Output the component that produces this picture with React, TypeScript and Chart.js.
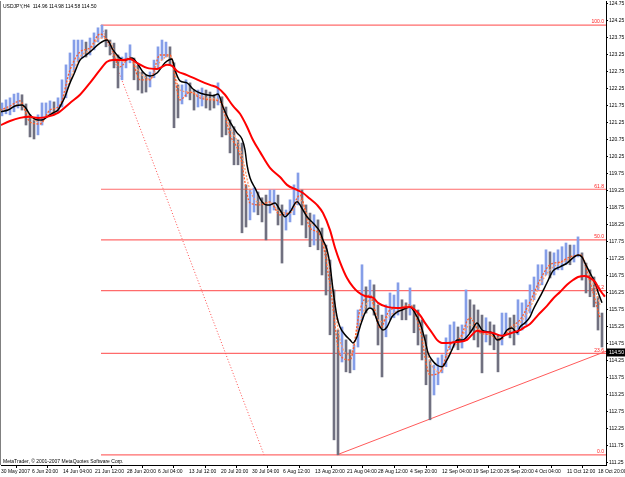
import React, { useEffect, useRef } from "react";
import { Chart, registerables } from "chart.js";

Chart.register(...registerables);

const FONT = "'Liberation Sans', Arial, sans-serif";

const HEADER = "USDJPY,H4  114.96 114.98 114.58 114.50";
const COPYRIGHT = "MetaTrader, \u00a9 2001-2007 MetaQuotes Software Corp.";
const LAST_PRICE = 114.5;

const X_MIN = 1;
const X_MAX = 606;
const Y_MIN = 111.19;
const Y_MAX = 124.838;

const Y_TICKS = [
  111.25, 111.75, 112.25, 112.75, 113.25, 113.75, 114.25, 114.75, 115.25, 115.75,
  116.25, 116.75, 117.25, 117.75, 118.25, 118.75, 119.25, 119.75, 120.25, 120.75,
  121.25, 121.75, 122.25, 122.75, 123.25, 123.75, 124.25, 124.75,
];

const X_TICK_BARS = [1, 32, 63, 95, 127, 158, 189, 221, 252, 283, 315, 347, 378, 410, 442, 473, 504, 535, 567, 598];
const X_TICK_LABELS = [
  "30 May 2007", "6 Jun 20:00", "14 Jun 04:00", "21 Jun 12:00", "28 Jun 20:00",
  "6 Jul 04:00", "13 Jul 12:00", "20 Jul 20:00", "30 Jul 04:00", "6 Aug 12:00",
  "13 Aug 20:00", "21 Aug 04:00", "28 Aug 12:00", "4 Sep 20:00", "12 Sep 04:00",
  "19 Sep 12:00", "26 Sep 20:00", "4 Oct 04:00", "11 Oct 12:00", "18 Oct 20:00",
];

// price bars, sampled every 4 bars starting at bar 2
const BAR_FIRST = 2;
const BAR_STEP = 4;
const BAR_HIGH = [
  121.84, 121.93, 121.99, 122.10, 122.13, 122.08, 121.81, 121.49, 121.34, 121.49,
  121.84, 121.84, 121.90, 121.87, 121.99, 122.52, 122.96, 123.31, 123.69, 123.69,
  123.69, 123.63, 123.75, 123.90, 124.05, 124.13, 123.99, 123.69, 123.60, 123.25,
  123.19, 123.31, 123.55, 123.16, 122.96, 122.75, 122.66, 122.75, 123.10, 123.49,
  123.69, 123.63, 123.49, 123.02, 122.37, 122.37, 122.52, 122.43, 122.22, 122.22,
  122.28, 122.22, 122.16, 122.08, 122.43, 122.02, 121.72, 121.34, 121.14, 120.75,
  120.66, 119.43, 119.28, 119.34, 119.22, 119.05, 119.13, 119.28, 119.28, 119.13,
  118.84, 118.69, 118.99, 119.43, 119.78, 119.28, 118.84, 118.60, 118.55, 118.40,
  118.16, 117.66, 117.22, 116.34, 115.16, 115.25, 114.87, 114.58, 114.72, 115.75,
  117.08, 116.43, 116.63, 116.49, 115.90, 115.60, 115.90, 116.25, 116.19, 116.55,
  116.05, 115.96, 116.40, 115.90, 115.75, 115.46, 115.02, 114.28, 114.13, 114.34,
  114.43, 114.93, 115.31, 115.40, 115.25, 115.31, 116.34, 116.05, 115.90, 115.75,
  115.60, 115.52, 115.40, 115.31, 115.02, 115.66, 115.66, 115.52, 115.60, 116.05,
  115.96, 116.05, 116.49, 116.72, 117.08, 117.08, 117.52, 117.46, 117.43, 117.52,
  117.61, 117.72, 117.66, 117.66, 117.90, 117.43, 117.13, 116.93, 116.72, 116.14,
  115.66,
];
const BAR_LOW = [
  121.46, 121.52, 121.49, 121.58, 121.69, 121.63, 121.19, 120.84, 120.78, 120.90,
  121.19, 121.43, 121.49, 121.49, 121.55, 121.72, 121.99, 122.52, 122.75, 123.05,
  123.16, 123.19, 123.25, 123.40, 123.63, 123.75, 123.49, 123.25, 122.87, 122.28,
  122.52, 122.87, 123.02, 122.52, 122.22, 122.13, 122.16, 122.31, 122.58, 122.87,
  123.10, 123.19, 122.96, 121.11, 121.40, 121.81, 122.02, 121.93, 121.63, 121.72,
  121.75, 121.69, 121.63, 121.69, 121.78, 120.84, 120.90, 120.37, 120.02, 120.02,
  118.02, 118.19, 118.40, 118.63, 118.55, 118.34, 117.81, 118.60, 118.69, 118.25,
  117.13, 118.10, 118.34, 118.55, 118.84, 118.25, 117.87, 117.61, 117.66, 117.52,
  116.78, 116.19, 115.02, 111.93, 111.49, 114.22, 113.93, 113.90, 113.99, 114.66,
  115.46, 115.66, 115.84, 115.60, 114.72, 113.78, 114.96, 115.46, 115.52, 115.60,
  115.46, 115.46, 115.60, 115.08, 114.72, 114.28, 113.55, 112.52, 113.25, 113.55,
  113.90, 114.08, 114.58, 114.66, 114.58, 114.63, 114.87, 115.08, 114.87, 114.66,
  113.90, 114.81, 114.72, 114.58, 113.93, 114.72, 115.02, 114.93, 114.72, 115.02,
  115.16, 115.31, 115.66, 116.05, 116.34, 116.49, 116.78, 116.69, 116.78, 116.93,
  116.93, 117.08, 117.08, 117.16, 117.31, 116.63, 116.25, 116.14, 115.84, 115.16,
  114.66,
];

// black moving average
const BLACK_X = [
  1, 8, 15, 22, 25, 30, 33, 38, 42, 47, 53, 58, 62, 65, 70, 74, 80, 85, 90, 100,
  107, 113, 120, 125, 132, 137, 143, 150, 157, 165, 172, 175, 180, 187, 193, 200, 207, 213, 218, 223,
  230, 237, 242, 245, 247, 250, 255, 262, 267, 270, 275, 280, 285, 290, 297, 303, 307, 313, 320, 323,
  327, 330, 333, 337, 340, 345, 350, 353, 357, 360, 365, 370, 373, 378, 383, 387, 392, 397, 402, 410,
  415, 420, 425, 428, 432, 437, 442, 447, 452, 457, 463, 467, 472, 477, 482, 487, 492, 497, 502, 507,
  512, 517, 520, 525, 530, 533, 540, 547, 553, 560, 567, 573, 578, 582, 585, 590, 595, 598, 602,
];
const BLACK_Y = [
  121.58, 121.63, 121.75, 121.78, 121.72, 121.49, 121.40, 121.34, 121.34, 121.43,
  121.55, 121.63, 121.84, 122.02, 122.43, 122.69, 123.10, 123.22, 123.34, 123.60,
  123.69, 123.40, 123.16, 123.10, 123.16, 123.02, 122.75, 122.63, 122.72, 123.02,
  123.13, 122.81, 122.49, 122.43, 122.25, 122.13, 122.08, 122.05, 122.10, 121.72,
  121.28, 120.96, 120.78, 120.46, 120.02, 119.64, 119.34, 118.93, 118.84, 118.84,
  118.90, 118.69, 118.49, 118.63, 118.93, 118.69, 118.49, 118.31, 118.05, 117.81,
  117.52, 117.08, 116.34, 115.55, 115.25, 115.02, 114.87, 114.78, 114.96, 115.25,
  115.66, 115.81, 115.75, 115.37, 115.16, 115.25, 115.55, 115.69, 115.75, 115.84,
  115.66, 115.37, 114.87, 114.49, 114.28, 114.13, 114.08, 114.28, 114.58, 114.87,
  114.87, 114.96, 115.16, 115.37, 115.16, 115.11, 115.08, 114.87, 114.93, 115.16,
  115.22, 115.08, 115.25, 115.37, 115.55, 115.75, 116.14, 116.55, 116.90, 117.02,
  117.13, 117.28, 117.37, 117.31, 117.13, 116.84, 116.55, 116.28, 115.96,
];

// red moving average
const RED_X = [
  1, 10, 20, 30, 38, 47, 58, 70, 80, 90, 100, 107, 113, 123, 130, 137, 147, 157, 167, 172,
  177, 187, 200, 210, 218, 225, 233, 240, 247, 253, 260, 270, 280, 287, 297, 303, 310, 317, 323, 330,
  335, 340, 347, 353, 358, 365, 373, 378, 387, 397, 410, 415, 420, 425, 432, 437, 442, 447, 457, 467,
  472, 477, 482, 492, 502, 512, 520, 525, 530, 538, 547, 553, 560, 567, 573, 578, 585, 590, 595, 598,
  602, 605,
];
const RED_Y = [
  121.19, 121.31, 121.40, 121.43, 121.40, 121.43, 121.55, 121.84, 122.08, 122.43,
  122.81, 123.05, 123.10, 123.10, 123.13, 123.02, 122.87, 122.84, 122.96, 122.93,
  122.78, 122.66, 122.49, 122.37, 122.28, 122.08, 121.75, 121.52, 121.14, 120.75,
  120.40, 119.93, 119.66, 119.43, 119.28, 119.19, 119.02, 118.84, 118.60, 118.10,
  117.58, 117.16, 116.69, 116.43, 116.28, 116.16, 116.11, 115.96, 115.84, 115.81,
  115.84, 115.75, 115.60, 115.37, 115.08, 114.87, 114.78, 114.78, 114.81, 114.87,
  115.02, 115.14, 115.11, 115.08, 114.99, 115.08, 115.16, 115.25, 115.34, 115.60,
  115.87, 116.08, 116.28, 116.49, 116.63, 116.72, 116.75, 116.69, 116.58, 116.43,
  116.25, 116.14,
];

// dotted fast averages, read every 10 bars from bar 0
const DOT_FIRST = 0;
const DOT_STEP = 10;
const FAST_Y = [
  121.63, 121.75, 121.90, 121.28, 121.22, 121.63, 121.78, 122.81, 123.34, 123.46,
  123.87, 123.55, 122.90, 123.19, 122.52, 122.52, 123.25, 123.25, 121.93, 122.16,
  121.99, 121.93, 121.87, 120.90, 120.31, 118.90, 118.84, 118.93, 118.55, 118.63,
  119.13, 118.16, 117.96, 116.49, 114.43, 114.28, 115.75, 116.19, 115.22, 115.75,
  115.81, 115.90, 115.16, 113.84, 113.93, 114.72, 114.93, 115.52, 115.08, 115.02,
  114.87, 115.22, 115.46, 115.99, 116.63, 117.08, 117.16, 117.31, 117.37, 116.57,
  115.52,
];
const MEDIUM_Y = [
  121.60, 121.69, 121.81, 121.43, 121.28, 121.52, 121.72, 122.52, 123.19, 123.40,
  123.75, 123.63, 123.05, 123.13, 122.72, 122.54, 123.05, 123.22, 122.22, 122.16,
  122.05, 121.96, 121.93, 121.10, 120.52, 119.28, 118.90, 118.90, 118.63, 118.60,
  118.99, 118.34, 118.02, 116.93, 114.87, 114.43, 115.40, 116.05, 115.40, 115.60,
  115.75, 115.84, 115.37, 114.22, 113.93, 114.52, 114.87, 115.31, 115.16, 115.02,
  114.93, 115.16, 115.37, 115.81, 116.49, 116.93, 117.13, 117.25, 117.37, 116.78,
  115.90,
];

// Fibonacci retracement object
const FIB_HIGH = 124.13;
const FIB_LOW = 111.49;
const FIB_HIGH_BAR = 101;
const FIB_LOW_BAR = 264;
const FIB_LEVELS = [0, 23.6, 38.2, 50, 61.8, 100];

// trend line (ray) from the August low
const TREND_BARS = [337, 428];
const TREND_PRICES = [111.49, 112.52];

const fibPrice = (lvl: number) => FIB_LOW + ((FIB_HIGH - FIB_LOW) * lvl) / 100;

const overlayPlugin = {
  id: "mtOverlay",
  afterDatasetsDraw(chart: any) {
    const { ctx, chartArea, scales } = chart;
    ctx.save();
    ctx.font = `5px ${FONT}`;
    ctx.fillStyle = "#ff2020";
    ctx.textAlign = "right";
    ctx.textBaseline = "bottom";
    FIB_LEVELS.forEach((l) => {
      ctx.fillText(l.toFixed(1), chartArea.right - 2, scales.y.getPixelForValue(fibPrice(l)) - 0.5);
    });
    ctx.fillStyle = "#000";
    ctx.textAlign = "left";
    ctx.textBaseline = "middle";
    ctx.fillText(HEADER, 3, chartArea.top + 6);
    ctx.fillText(COPYRIGHT, 3, chartArea.bottom - 3);
    ctx.restore();
  },
  afterDraw(chart: any) {
    const { ctx, chartArea, scales } = chart;
    ctx.save();
    ctx.strokeStyle = "#808080";
    ctx.lineWidth = 1;
    ctx.beginPath();
    ctx.moveTo(chartArea.left - 0.5, chartArea.top);
    ctx.lineTo(chartArea.left - 0.5, chartArea.bottom);
    ctx.stroke();
    const py = scales.y.getPixelForValue(LAST_PRICE);
    ctx.fillStyle = "#000";
    ctx.fillRect(chartArea.right + 1, py - 4, 19, 8);
    ctx.fillStyle = "#fff";
    ctx.font = `5px ${FONT}`;
    ctx.textAlign = "left";
    ctx.textBaseline = "middle";
    ctx.fillText(LAST_PRICE.toFixed(2), chartArea.right + 3, py);
    ctx.restore();
  },
};

const bgPlugin = {
  id: "bg",
  beforeDraw(chart: any) {
    const { ctx, width, height } = chart;
    ctx.save();
    ctx.fillStyle = "#fff";
    ctx.fillRect(0, 0, width, height);
    ctx.restore();
  },
};

function buildConfig(): any {
  const bars = BAR_HIGH.map((h, i) => ({ x: BAR_FIRST + i * BAR_STEP, y: [BAR_LOW[i], h] }));
  const barColors = BAR_HIGH.map((h, i) => {
    const mid = (h + BAR_LOW[i]) / 2;
    const prev = i > 0 ? (BAR_HIGH[i - 1] + BAR_LOW[i - 1]) / 2 : mid;
    return mid >= prev ? "#859ee8" : "#707080";
  });
  const line = (xs: number[], ys: number[]) => ys.map((y, i) => ({ x: xs[i], y }));
  const dotX = FAST_Y.map((_, i) => DOT_FIRST + i * DOT_STEP);
  const slope = (TREND_PRICES[1] - TREND_PRICES[0]) / (TREND_BARS[1] - TREND_BARS[0]);
  const trendEnd = TREND_PRICES[0] + slope * (X_MAX - TREND_BARS[0]);

  const fibSets = FIB_LEVELS.map((l) => ({
    type: "line",
    data: [
      { x: FIB_HIGH_BAR, y: fibPrice(l) },
      { x: X_MAX, y: fibPrice(l) },
    ],
    borderColor: "#ff6b6b",
    borderWidth: 1.2,
    pointRadius: 0,
    order: 30,
  }));

  return {
    type: "line",
    data: {
      datasets: [
        ...fibSets,
        {
          type: "line",
          data: [
            { x: FIB_HIGH_BAR, y: FIB_HIGH },
            { x: FIB_LOW_BAR, y: FIB_LOW },
          ],
          borderColor: "#ff5050",
          borderWidth: 1,
          borderDash: [1, 2],
          pointRadius: 0,
          order: 25,
        },
        {
          type: "line",
          data: [
            { x: TREND_BARS[0], y: TREND_PRICES[0] },
            { x: X_MAX, y: trendEnd },
          ],
          borderColor: "#ff5a5a",
          borderWidth: 1,
          pointRadius: 0,
          order: 25,
        },
        {
          type: "bar",
          data: bars,
          backgroundColor: barColors,
          barThickness: 2,
          grouped: false,
          order: 20,
        },
        {
          type: "line",
          data: line(dotX, MEDIUM_Y),
          borderColor: "#ff9a6a",
          borderWidth: 1.3,
          borderDash: [2, 1.5],
          pointRadius: 0,
          cubicInterpolationMode: "monotone",
          order: 6,
        },
        {
          type: "line",
          data: line(dotX, FAST_Y),
          borderColor: "#ff5a28",
          borderWidth: 1.3,
          borderDash: [2, 1.5],
          pointRadius: 0,
          cubicInterpolationMode: "monotone",
          order: 5,
        },
        {
          type: "line",
          data: line(BLACK_X, BLACK_Y),
          borderColor: "#000",
          borderWidth: 1.5,
          pointRadius: 0,
          cubicInterpolationMode: "monotone",
          order: 2,
        },
        {
          type: "line",
          data: line(RED_X, RED_Y),
          borderColor: "#ff0000",
          borderWidth: 2,
          pointRadius: 0,
          cubicInterpolationMode: "monotone",
          order: 1,
        },
      ],
    },
    options: {
      responsive: false,
      animation: false,
      devicePixelRatio: 1,
      layout: { padding: { left: 1, top: 1, right: 0, bottom: 0 } },
      plugins: { legend: { display: false }, tooltip: { enabled: false } },
      scales: {
        x: {
          type: "linear",
          position: "bottom",
          min: X_MIN,
          max: X_MAX,
          offset: false,
          afterBuildTicks: (s: any) => {
            s.ticks = X_TICK_BARS.map((v) => ({ value: v }));
          },
          afterFit: (s: any) => {
            s.height = 12;
            s.paddingLeft = 0;
            s.paddingRight = 0;
          },
          ticks: {
            autoSkip: false,
            maxRotation: 0,
            minRotation: 0,
            align: "start",
            padding: 1,
            color: "#000",
            font: { family: FONT, size: 5 },
            callback: (_v: any, i: number) => X_TICK_LABELS[i],
          },
          grid: { drawOnChartArea: false, drawTicks: true, tickLength: 3, color: "#000" },
          border: { display: true, color: "#000" },
        },
        y: {
          type: "linear",
          position: "right",
          min: Y_MIN,
          max: Y_MAX,
          afterBuildTicks: (s: any) => {
            s.ticks = Y_TICKS.map((v) => ({ value: v }));
          },
          afterFit: (s: any) => {
            s.width = 19;
            s.paddingTop = 0;
            s.paddingBottom = 0;
          },
          ticks: {
            padding: 1,
            color: "#000",
            font: { family: FONT, size: 5 },
            callback: (v: any) => Number(v).toFixed(2),
          },
          grid: { drawOnChartArea: false, drawTicks: true, tickLength: 2, color: "#000" },
          border: { display: true, color: "#000" },
        },
      },
    },
    plugins: [bgPlugin, overlayPlugin],
  };
}

export default function App() {
  const ref = useRef<HTMLCanvasElement>(null);
  useEffect(() => {
    document.body.style.margin = "0";
    const chart = new Chart(ref.current as HTMLCanvasElement, buildConfig());
    return () => chart.destroy();
  }, []);
  return (
    <div style={{ width: 625, height: 477, background: "#fff" }}>
      <canvas ref={ref} width={625} height={477} style={{ display: "block" }} />
    </div>
  );
}
